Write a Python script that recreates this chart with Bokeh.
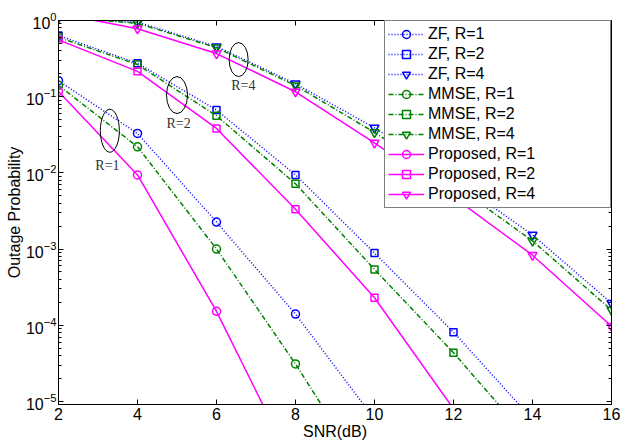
from bokeh.plotting import figure
from bokeh.models import (FixedTicker, LogAxis, LinearAxis, Range1d, Legend,
                          CustomJSTickFormatter)
from bokeh.embed import file_html
from bokeh.resources import INLINE
from bokeh.core.properties import value

# ---------------- data ----------------
snr = [2, 4, 6, 8, 10, 12, 14, 16]

zf_r1 = [0.162, 0.0329, 2.26e-3, 1.4e-4, 5.85e-6]
mmse_r1 = [0.141, 0.022, 1.0e-3, 3.1e-5, 7.2e-7]
prop_r1 = [0.117, 0.0094, 1.52e-4, 1.24e-6]

zf_r2 = [0.635, 0.275, 0.0668, 9.4e-3, 8.85e-4, 8.1e-5, 5.8e-6]
mmse_r2 = [0.60, 0.264, 0.0562, 7.2e-3, 5.4e-4, 4.35e-5, 2.8e-6]
prop_r2 = [0.557, 0.215, 0.0383, 3.33e-3, 2.29e-4, 8.0e-6]

zf_r4 = [1.08, 0.95, 0.455, 0.148, 0.039, 8.3e-3, 1.53e-3, 1.95e-4]
mmse_r4 = [1.10, 0.92, 0.44, 0.14, 0.034, 7.1e-3, 1.28e-3, 1.58e-4]
prop_r4 = [1.24, 0.78, 0.368, 0.116, 0.0248, 4.8e-3, 8.3e-4, 9.7e-5]

x_ticks = [2, 4, 6, 8, 10, 12, 14, 16]
y_ticks = [1e-5, 1e-4, 1e-3, 1e-2, 1e-1, 1.0]

# group annotations (ellipses + labels)
ann_x = [3.30, 5.00, 6.56]
ann_y = [0.0357, 0.105, 0.307]
ann_w = [19, 21, 19]
ann_h = [43, 37, 34]
lab_x = [3.24, 5.04, 6.68]
lab_y = [0.0124, 0.0441, 0.1396]
lab_text = ["R=1", "R=2", "R=4"]

# ---------------- figure ----------------
p = figure(width=622, height=442, y_axis_type="log",
           x_range=Range1d(2, 16), y_range=Range1d(9.1e-6, 1.0),
           output_backend="svg", toolbar_location=None,
           min_border_left=58, min_border_right=11,
           min_border_top=20, min_border_bottom=38)
p.background_fill_color = "white"
p.border_fill_color = "white"
p.outline_line_color = "black"
p.outline_line_width = 1
p.grid.visible = False

FONT = "Liberation Sans"
minor = [m * 10.0 ** e for e in range(-6, 1) for m in range(2, 10)]

p.xaxis.ticker = FixedTicker(ticks=x_ticks, minor_ticks=[])
p.yaxis.ticker = FixedTicker(ticks=y_ticks, minor_ticks=minor)
for ax in (p.xaxis[0], p.yaxis[0]):
    ax.major_tick_in = 5
    ax.major_tick_out = 0
    ax.minor_tick_in = 3
    ax.minor_tick_out = 0
    ax.axis_line_color = "black"
    ax.major_tick_line_color = "black"
    ax.minor_tick_line_color = "black"
    ax.major_label_text_font = FONT
    ax.major_label_text_font_size = "16px"
    ax.major_label_text_color = "black"
    ax.axis_label_text_font = FONT
    ax.axis_label_text_font_size = "16px"
    ax.axis_label_text_font_style = "normal"
    ax.axis_label_text_color = "black"
p.xaxis.axis_label = "SNR(dB)"
p.yaxis.axis_label = "Outage Probability"
p.xaxis.major_label_standoff = 3
p.xaxis.axis_label_standoff = 0
p.yaxis.major_label_standoff = 2
p.yaxis.axis_label_standoff = 0

blank = CustomJSTickFormatter(code="return '';")
right_ax = LogAxis(ticker=FixedTicker(ticks=y_ticks, minor_ticks=minor),
                   formatter=blank, major_tick_in=5, major_tick_out=0,
                   minor_tick_in=3, minor_tick_out=0, major_label_standoff=0)
top_ax = LinearAxis(ticker=FixedTicker(ticks=x_ticks, minor_ticks=[]),
                    formatter=blank, major_tick_in=5, major_tick_out=0,
                    minor_tick_in=0, minor_tick_out=0, major_label_standoff=0)
p.add_layout(right_ax, "right")
p.add_layout(top_ax, "above")

BLUE, GREEN, MAG = "#0000FF", "#008000", "#FF00FF"
styles = {
    "ZF": dict(color=BLUE, dash="1 2"),
    "MMSE": dict(color=GREEN, dash="5 2 1 2"),
    "Proposed": dict(color=MAG, dash="solid"),
}
markers = {1: ("circle", 8), 2: ("square", 7), 4: ("inverted_triangle", 9)}
series = [
    ("ZF", 1, zf_r1), ("ZF", 2, zf_r2), ("ZF", 4, zf_r4),
    ("MMSE", 1, mmse_r1), ("MMSE", 2, mmse_r2), ("MMSE", 4, mmse_r4),
    ("Proposed", 1, prop_r1), ("Proposed", 2, prop_r2), ("Proposed", 4, prop_r4),
]

items = []
for name, r, ys in series:
    st = styles[name]
    xs = snr[:len(ys)]
    mk, sz = markers[r]
    ln = p.line(xs, ys, line_color=st["color"], line_width=1.5,
                line_dash=st["dash"])
    sc = p.scatter(xs, ys, marker=mk, size=sz, line_color=st["color"],
                   fill_color=None, line_width=1.5)
    items.append((f"{name}, R={r}", [ln, sc]))

legend = Legend(items=items, location="top_right", margin=0, padding=3,
                spacing=0, glyph_width=36, glyph_height=20, label_height=20,
                label_width=179, label_standoff=4,
                label_text_font=FONT, label_text_font_size="16px",
                label_text_color="black",
                border_line_color="black", border_line_width=1,
                background_fill_color="white", background_fill_alpha=1.0)
p.add_layout(legend)

p.ellipse(x=ann_x, y=ann_y, width=ann_w, height=ann_h,
          width_units="screen", height_units="screen",
          fill_color=None, line_color="black", line_width=1)
p.text(x=lab_x, y=lab_y, text=lab_text, text_font=value("Liberation Serif"),
       text_font_size="14px", text_color="#333333",
       text_align="center", text_baseline="middle")

open("out.html", "w").write(file_html(p, INLINE))
